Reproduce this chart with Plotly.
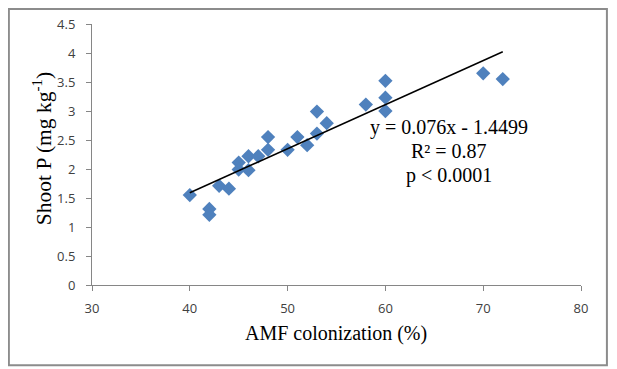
import plotly.graph_objects as go

# AMF colonization (%) vs shoot P (mg kg-1)
amf = [40, 42, 42, 43, 44, 45, 45, 46, 46, 47, 48, 48, 50, 51, 52, 53, 53, 54, 58, 60, 60, 60, 70, 72]
shoot_p = [1.55, 1.31, 1.21, 1.71, 1.66, 2.11, 1.99, 2.22, 1.98, 2.22, 2.55, 2.33, 2.33, 2.55, 2.41,
           2.99, 2.61, 2.79, 3.11, 3.52, 3.23, 3.0, 3.65, 3.55]

# linear trendline as printed on the chart
slope = 0.076
intercept = -1.4499
trend_x = [min(amf), max(amf)]
trend_y = [slope * x + intercept for x in trend_x]

stats_lines = ["y = 0.076x - 1.4499", "R² = 0.87", "p < 0.0001"]

serif = "Liberation Serif"

fig = go.Figure()
fig.add_trace(go.Scatter(x=amf, y=shoot_p, mode="markers",
                         marker=dict(symbol="diamond", size=11, color="#4F81BD"),
                         showlegend=False))
fig.add_trace(go.Scatter(x=trend_x, y=trend_y, mode="lines",
                         line=dict(color="black", width=1.5), showlegend=False))

# one annotation per line for tight line spacing
for i, txt in enumerate(stats_lines):
    fig.add_annotation(x=0.730, y=0.602 - i * 0.0905, xref="paper", yref="paper", showarrow=False,
                       xanchor="center", yanchor="middle",
                       text=txt, font=dict(family=serif, size=20, color="black"))

# axis titles as annotations (fixed positions)
fig.add_annotation(x=0.499, y=-0.184, xref="paper", yref="paper", showarrow=False,
                   xanchor="center", yanchor="middle", text="AMF colonization (%)",
                   font=dict(family=serif, size=20, color="black"))
fig.add_annotation(x=-0.102, y=0.521, xref="paper", yref="paper", showarrow=False,
                   xanchor="center", yanchor="middle", textangle=-90,
                   text="Shoot P (mg kg<sup>-1</sup>)",
                   font=dict(family=serif, size=21.5, color="black"))

# outer chart border
fig.add_shape(type="rect", xref="paper", yref="paper", x0=-0.170, x1=1.053, y0=-0.307, y1=1.057,
              line=dict(color="#8c8c8c", width=2))

fig.update_xaxes(range=[30, 80], dtick=10, showline=True, linecolor="#868686", linewidth=1,
                 ticks="outside", ticklen=5, tickcolor="#868686", showgrid=False, zeroline=False,
                 ticklabelstandoff=6, automargin=False,
                 tickfont=dict(family="Open Sans", size=13, color="#404040"))
fig.update_yaxes(range=[0, 4.5], dtick=0.5, showline=True, linecolor="#868686", linewidth=1,
                 ticks="outside", ticklen=5, tickcolor="#868686", showgrid=False, zeroline=False,
                 ticklabelstandoff=8, automargin=False,
                 tickfont=dict(family="Open Sans", size=13, color="#404040"))

# page body adds an 8px offset, so the figure is sized to fill the rest of the window
fig.update_layout(width=609, height=361, margin=dict(l=84, r=36, t=16, b=84),
                  plot_bgcolor="white", paper_bgcolor="white")

fig.write_html("out.html")
